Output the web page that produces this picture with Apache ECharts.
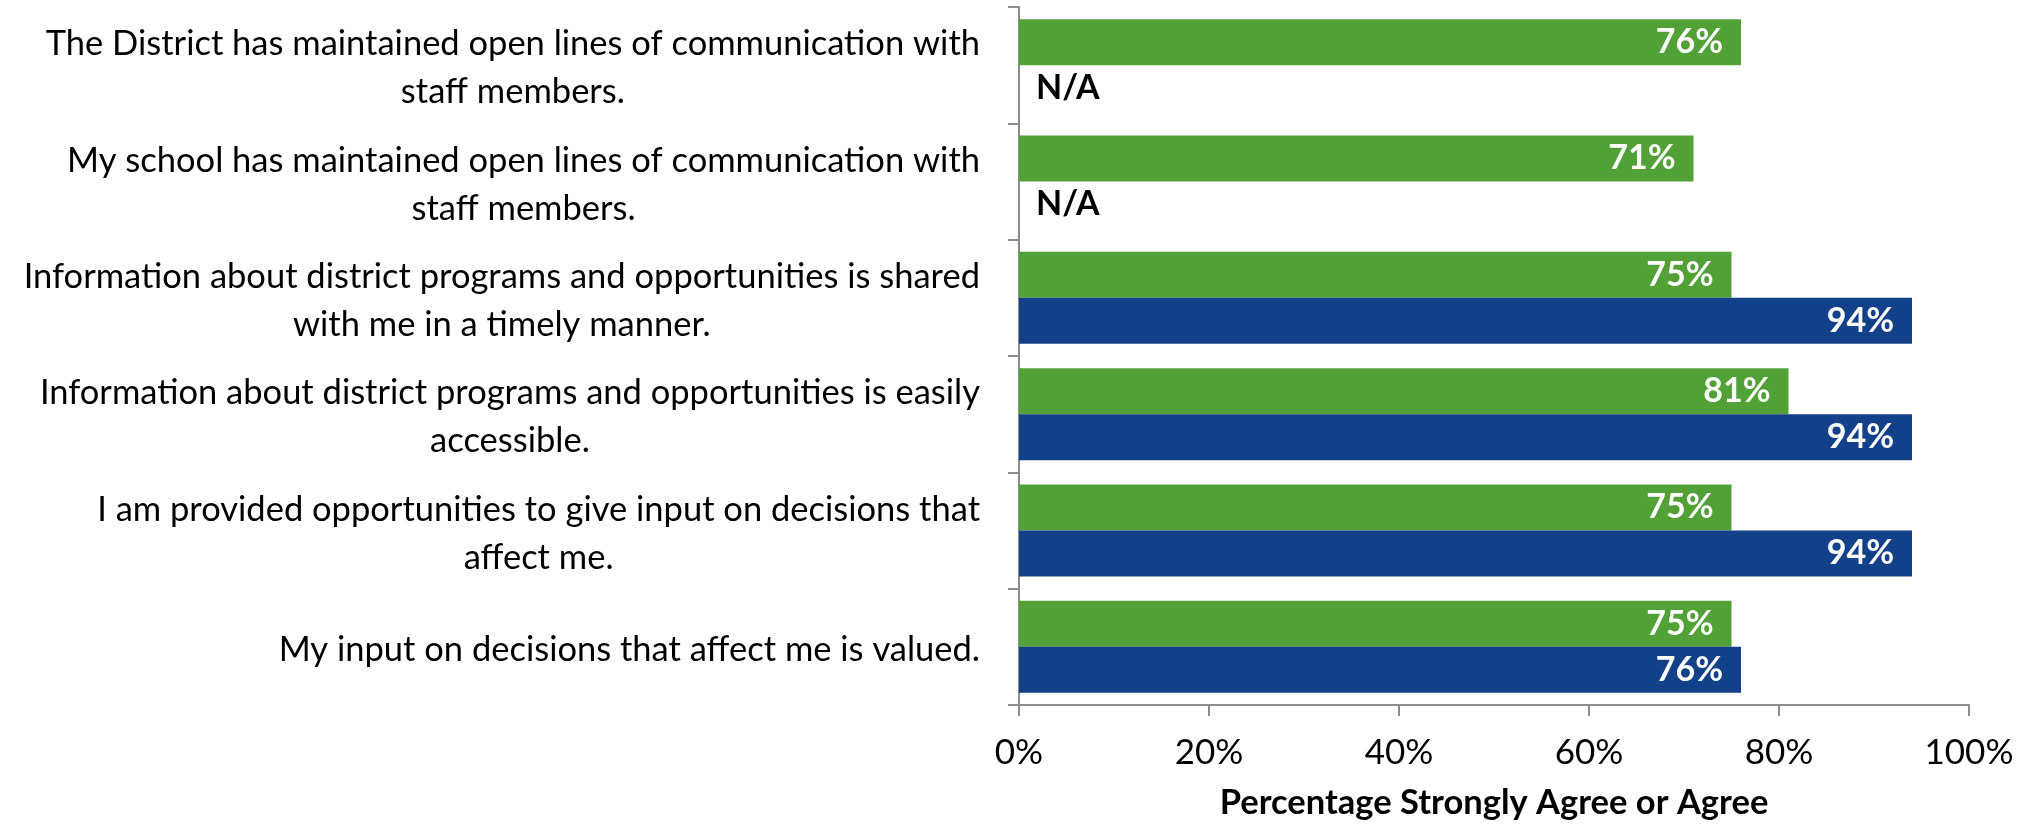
<!DOCTYPE html>
<html>
<head>
<meta charset="utf-8">
<script src="https://cdn.jsdelivr.net/npm/echarts@6/dist/echarts.min.js"></script>
<style>
  html, body { margin: 0; padding: 0; background: #fff; }
  #chart { width: 2028px; height: 826px; }
</style>
</head>
<body>
<div id="chart"></div>
<script>
var categories = [
  'The District has maintained open lines of communication with\nstaff members.',
  'My school has maintained open lines of communication with\nstaff members.',
  'Information about district programs and opportunities is shared\nwith me in a timely manner.',
  'Information about district programs and opportunities is easily\naccessible.',
  'I am provided opportunities to give input on decisions that\naffect me.',
  'My input on decisions that affect me is valued.'
];
var greenValues = [76, 71, 75, 81, 75, 75];
var blueValues = [null, null, 94, 94, 94, 76];
var xTicks = [0, 20, 40, 60, 80, 100];

var FONT = 'Lato';
var axisGray = '#8c8c8c';

// blue series: missing values shown as N/A at the axis
var blueData = blueValues.map(function (v) {
  if (v === null) {
    return {
      value: 0,
      label: {
        show: true, position: 'right', distance: 17,
        formatter: 'N/A', color: '#000'
      }
    };
  }
  return v;
});

var chart = echarts.init(document.getElementById('chart'));
chart.setOption({
  animation: false,
  grid: { left: 1019, right: 59, top: 7, bottom: 121, containLabel: false },
  xAxis: {
    type: 'value',
    min: xTicks[0],
    max: xTicks[xTicks.length - 1],
    interval: 20,
    name: 'Percentage Strongly Agree or Agree',
    nameLocation: 'middle',
    nameGap: 80,
    nameTextStyle: { fontFamily: FONT, fontSize: 34.5, fontWeight: 'bold', color: '#000' },
    axisLine: { show: true, lineStyle: { color: axisGray, width: 2 } },
    axisTick: { show: true, length: 11, lineStyle: { color: axisGray, width: 2 } },
    splitLine: { show: false },
    axisLabel: {
      formatter: '{value}%', margin: 29,
      fontFamily: FONT, fontSize: 35, lineHeight: 38, color: '#000'
    }
  },
  yAxis: {
    type: 'category',
    data: categories,
    inverse: true,
    axisLine: { show: true, lineStyle: { color: axisGray, width: 2 } },
    axisTick: { show: true, length: 11, lineStyle: { color: axisGray, width: 2 } },
    axisLabel: {
      margin: 39,
      padding: [6, 0, 0, 0],
      formatter: function (v) {
        return v.split('\n').map(function (s) { return '{c|' + s + '}'; }).join('\n');
      },
      rich: {
        c: { align: 'center', fontFamily: FONT, fontSize: 34.5, lineHeight: 48, color: '#000' }
      }
    }
  },
  series: [
    {
      name: 'District',
      type: 'bar',
      data: greenValues,
      barWidth: 46,
      barGap: '0%',
      itemStyle: { color: '#52a137' },
      label: {
        show: true, position: 'insideRight', distance: 18,
        formatter: '{c}%', color: '#fff',
        fontFamily: FONT, fontSize: 34, fontWeight: 'bold'
      }
    },
    {
      name: 'Other',
      type: 'bar',
      data: blueData,
      barWidth: 46,
      barGap: '0%',
      itemStyle: { color: '#134189' },
      label: {
        show: true, position: 'insideRight', distance: 18,
        formatter: '{c}%', color: '#fff',
        fontFamily: FONT, fontSize: 34, fontWeight: 'bold'
      }
    }
  ]
});
</script>
</body>
</html>
